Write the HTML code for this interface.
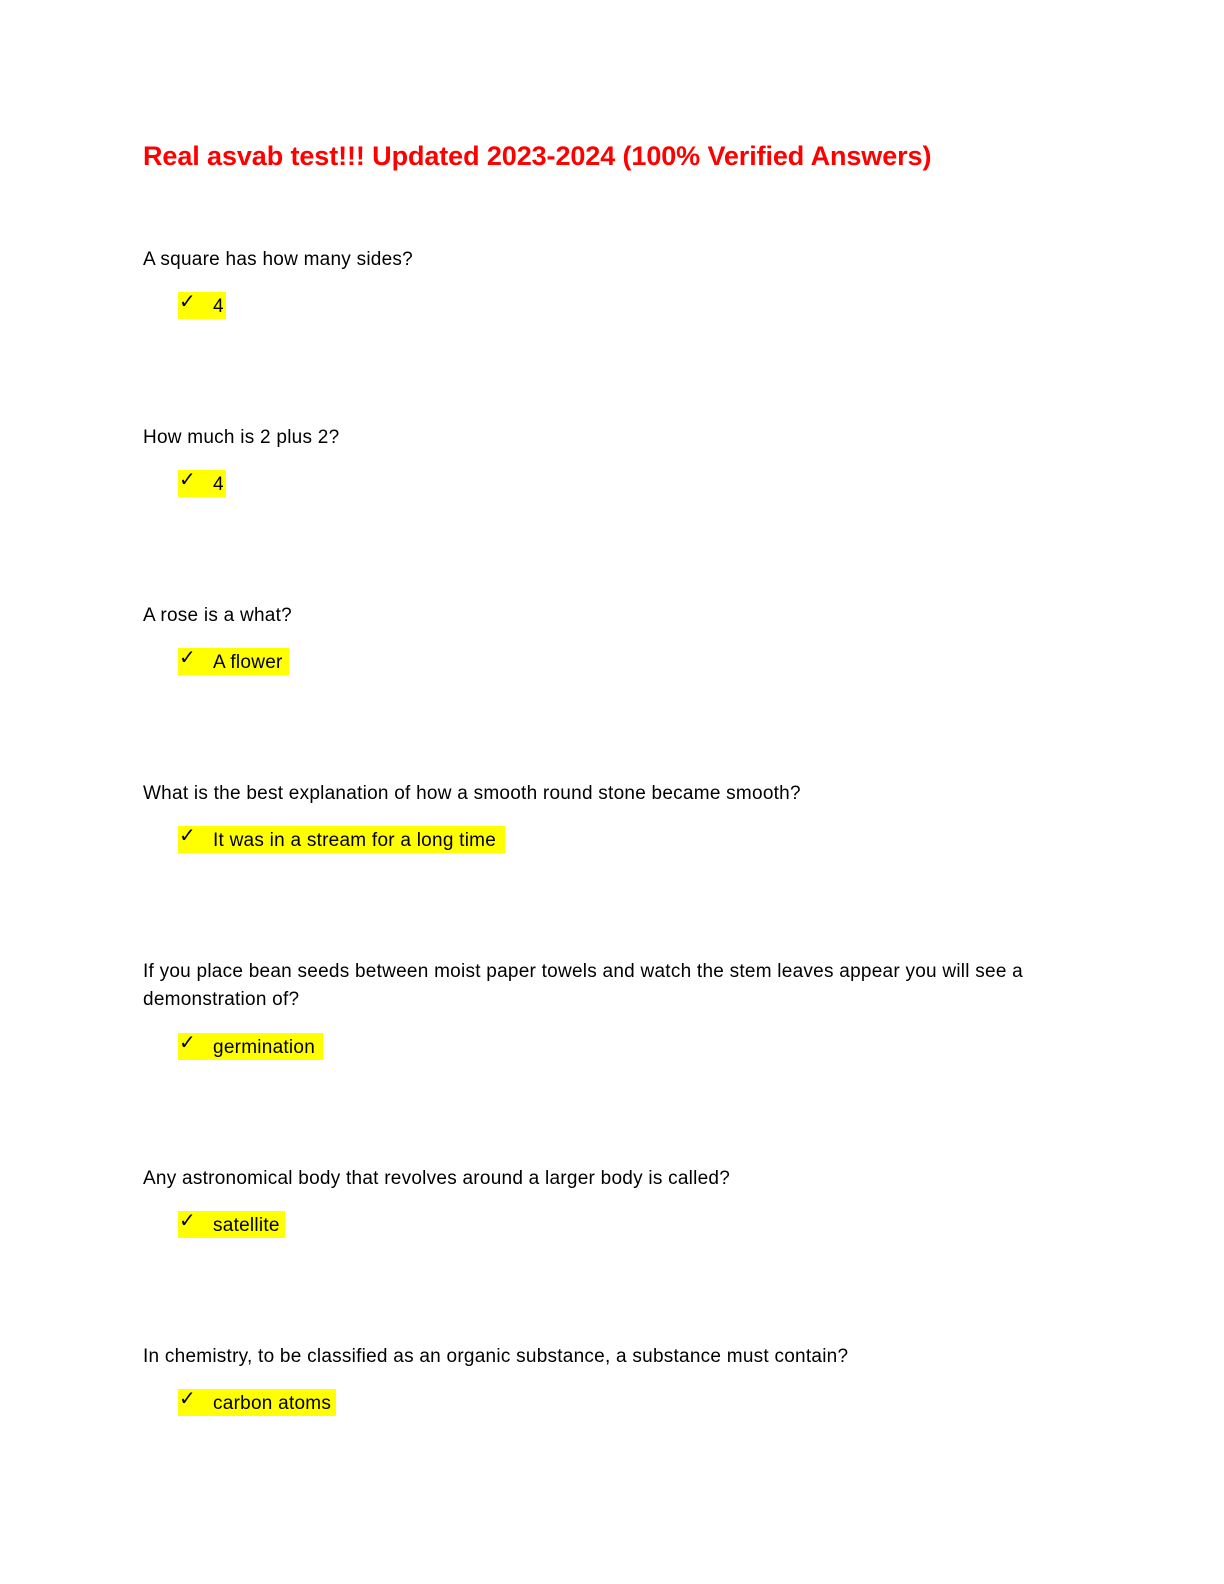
<!DOCTYPE html>
<html><head><style>
body{margin:0;width:1224px;height:1584px;background:#fff;position:relative;font-family:"Liberation Sans",sans-serif;}
.t{position:absolute;left:143px;top:141px;font-size:27px;font-weight:bold;color:#ff0000;white-space:nowrap;letter-spacing:-0.1px;}
.q{position:absolute;left:143px;font-size:19px;letter-spacing:0.25px;color:#000;white-space:nowrap;line-height:28px;}
.a{position:absolute;left:178px;height:27px;background:#ffff00;font-size:19px;letter-spacing:0.25px;line-height:27px;white-space:nowrap;}
.a span.c{position:absolute;left:1px;top:-4px;font-family:"DejaVu Sans",sans-serif;font-size:20px;font-weight:bold;}
.a span.x{position:absolute;left:35px;top:1px;}
</style></head><body>
<div class="t">Real asvab test!!! Updated 2023-2024 (100% Verified Answers)</div>

<div class="q" style="top:246px">A square has how many sides?</div>
<div class="a" style="top:292px;width:48px"><span class="c">✓</span><span class="x">4</span></div>

<div class="q" style="top:424px">How much is 2 plus 2?</div>
<div class="a" style="top:470px;width:48px"><span class="c">✓</span><span class="x">4</span></div>

<div class="q" style="top:602px">A rose is a what?</div>
<div class="a" style="top:648px;width:111px"><span class="c">✓</span><span class="x">A flower</span></div>

<div class="q" style="top:780px">What is the best explanation of how a smooth round stone became smooth?</div>
<div class="a" style="top:826px;width:327px"><span class="c">✓</span><span class="x">It was in a stream for a long time</span></div>

<div class="q" style="top:958px">If you place bean seeds between moist paper towels and watch the stem leaves appear you will see a<br>demonstration of?</div>
<div class="a" style="top:1033px;width:145px"><span class="c">✓</span><span class="x">germination</span></div>

<div class="q" style="top:1165px">Any astronomical body that revolves around a larger body is called?</div>
<div class="a" style="top:1211px;width:107px"><span class="c">✓</span><span class="x">satellite</span></div>

<div class="q" style="top:1343px">In chemistry, to be classified as an organic substance, a substance must contain?</div>
<div class="a" style="top:1389px;width:158px"><span class="c">✓</span><span class="x">carbon atoms</span></div>
</body></html>
